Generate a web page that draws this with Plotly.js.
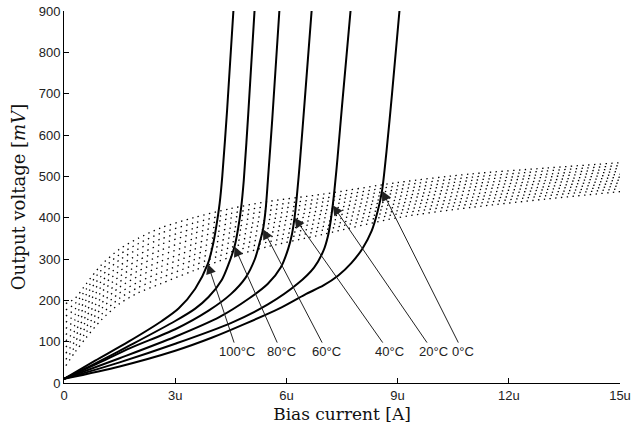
<!DOCTYPE html>
<html>
<head>
<meta charset="utf-8">
<script src="https://cdn.plot.ly/plotly-3.0.1.min.js"></script>
<style>html,body{margin:0;padding:0;background:#fff;}#chart{width:633px;height:437px;}</style>
</head>
<body>
<div id="chart"></div>
<script>
// ---- Dotted family (x in µA, y in mV) ----
const dotX   = [0.05, 0.3, 0.6, 1.0, 1.5, 2.0, 2.6, 3.5, 4.5, 5.5, 7.0, 9.0, 11.0, 13.0, 15.0];
const dot0   = [192, 205, 240, 285, 324, 350, 375, 400, 422, 439, 457, 485, 506, 520, 533];
const dot1   = [177, 192, 227, 272, 311, 337, 362, 387, 410, 428, 447, 477, 498, 513, 526];
const dot2   = [162, 179, 214, 258, 298, 324, 348, 374, 399, 417, 438, 468, 490, 505, 519];
const dot3   = [147, 166, 201, 245, 284, 310, 335, 362, 387, 406, 428, 460, 482, 498, 512];
const dot4   = [132, 153, 188, 232, 271, 297, 321, 349, 375, 395, 418, 451, 474, 490, 505];
const dot5   = [117, 140, 175, 219, 258, 284, 308, 336, 364, 385, 409, 443, 466, 483, 498];
const dot6   = [102, 127, 162, 205, 245, 271, 294, 323, 352, 374, 399, 434, 457, 475, 491];
const dot7   = [87, 114, 149, 192, 232, 258, 281, 310, 340, 363, 389, 426, 449, 468, 484];
const dot8   = [72, 101, 136, 179, 218, 244, 267, 298, 328, 352, 379, 417, 441, 460, 477];
const dot9   = [57, 88, 123, 165, 205, 231, 254, 285, 317, 341, 370, 409, 433, 453, 470];
const dot10  = [42, 75, 110, 152, 192, 218, 240, 272, 305, 330, 360, 400, 425, 445, 463];

// ---- Solid curves ----
const c100x = [0, 0.84, 1.74, 2.64, 3.09, 3.54, 3.88, 4.02, 4.12, 4.2, 4.27, 4.4, 4.57];
const c100y = [10, 54, 100, 150, 180, 228, 288, 335, 385, 435, 500, 660, 900];
const c80x  = [0, 0.9, 1.8, 3.0, 3.54, 3.9, 4.26, 4.45, 4.6, 4.7, 4.78, 4.85, 4.97, 5.14];
const c80y  = [10, 50, 92, 150, 180, 208, 250, 290, 330, 375, 425, 490, 650, 900];
const c60x  = [0, 0.9, 1.8, 3.0, 3.9, 4.5, 4.9, 5.15, 5.28, 5.37, 5.44, 5.5, 5.62, 5.81];
const c60y  = [10, 47, 85, 130, 175, 215, 255, 300, 340, 372, 420, 490, 640, 900];
const c40x  = [0, 1.5, 3.0, 4.2, 5.0, 5.5, 5.85, 6.05, 6.15, 6.22, 6.28, 6.36, 6.5, 6.68];
const c40y  = [10, 60, 112, 160, 205, 240, 280, 325, 360, 400, 450, 530, 690, 900];
const c20x  = [0, 1.5, 3.0, 4.5, 5.5, 6.3, 6.75, 7.0, 7.12, 7.2, 7.25, 7.3, 7.38, 7.5, 7.73];
const c20y  = [10, 50, 95, 145, 190, 240, 280, 320, 355, 395, 430, 470, 545, 670, 900];
const c0x   = [0, 1.5, 3.0, 4.0, 4.88, 5.8, 6.5, 7.0, 7.4, 7.75, 8.05, 8.3, 8.46, 8.58, 8.7, 8.85, 9.05];
const c0y   = [10, 40, 78, 110, 143, 180, 214, 236, 260, 290, 325, 368, 415, 465, 560, 700, 900];

// ---- Labels / arrows ----
const labels = ['100°C', '80°C', '60°C', '40°C', '20°C', '0°C'];
const tipX   = [3.88, 4.6, 5.37, 6.22, 7.25, 8.58];
const tipY   = [288, 330, 372, 400, 430, 465];
const labX   = [4.67, 5.86, 7.09, 8.77, 9.96, 10.76];
const labY   = [76, 76, 76, 76, 76, 76];

// ---- Axis ticks ----
const xTickVals = [0, 3, 6, 9, 12, 15];
const xTickText = ['0', '3u', '6u', '9u', '12u', '15u'];
const yTickVals = [0, 100, 200, 300, 400, 500, 600, 700, 800, 900];

const traces = [];
[dot0, dot1, dot2, dot3, dot4, dot5, dot6, dot7, dot8, dot9, dot10].forEach(d => {
  traces.push({x: dotX, y: d, mode: 'lines', type: 'scatter', hoverinfo: 'skip',
    line: {color: '#000', width: 1.3, dash: '1.4px,4.4px', shape: 'spline', smoothing: 0.8}});
});
[[c100x, c100y], [c80x, c80y], [c60x, c60y], [c40x, c40y], [c20x, c20y], [c0x, c0y]].forEach(c => {
  traces.push({x: c[0], y: c[1], mode: 'lines', type: 'scatter', hoverinfo: 'skip',
    line: {color: '#000', width: 2, shape: 'spline', smoothing: 0.8}});
});

const annotations = labels.map((t, i) => ({
  x: tipX[i], y: tipY[i], xref: 'x', yref: 'y',
  ax: labX[i], ay: labY[i], axref: 'x', ayref: 'y',
  text: t, showarrow: true, arrowhead: 2, arrowsize: 2, arrowwidth: 1, arrowcolor: '#222',
  font: {family: 'Liberation Sans, Arial, sans-serif', size: 13, color: '#222'}
}));

const layout = {
  width: 633, height: 437,
  margin: {l: 64, r: 13, t: 11, b: 54},
  paper_bgcolor: '#fff', plot_bgcolor: '#fff',
  showlegend: false,
  xaxis: {
    range: [0, 15], tickvals: xTickVals, ticktext: xTickText,
    ticks: 'inside', ticklen: 5, tickcolor: '#000', showline: true, linecolor: '#000', linewidth: 1,
    showgrid: false, zeroline: false, mirror: false,
    tickfont: {family: 'Liberation Sans, Arial, sans-serif', size: 13, color: '#222'},
    title: {text: 'Bias current [A]', standoff: 6,
      font: {family: 'DejaVu Serif, serif', size: 17, color: '#111'}}
  },
  yaxis: {
    range: [0, 900], tickvals: yTickVals,
    ticks: 'inside', ticklen: 5, tickcolor: '#000', showline: true, linecolor: '#000', linewidth: 1,
    showgrid: false, zeroline: false, mirror: false,
    tickfont: {family: 'Liberation Sans, Arial, sans-serif', size: 13, color: '#222'},
    title: {text: 'Output voltage [<i>mV</i>]', standoff: 8,
      font: {family: 'DejaVu Serif, serif', size: 18, color: '#111'}}
  },
  annotations: annotations
};

Plotly.newPlot('chart', traces, layout, {displayModeBar: false, staticPlot: true});
</script>
</body>
</html>
